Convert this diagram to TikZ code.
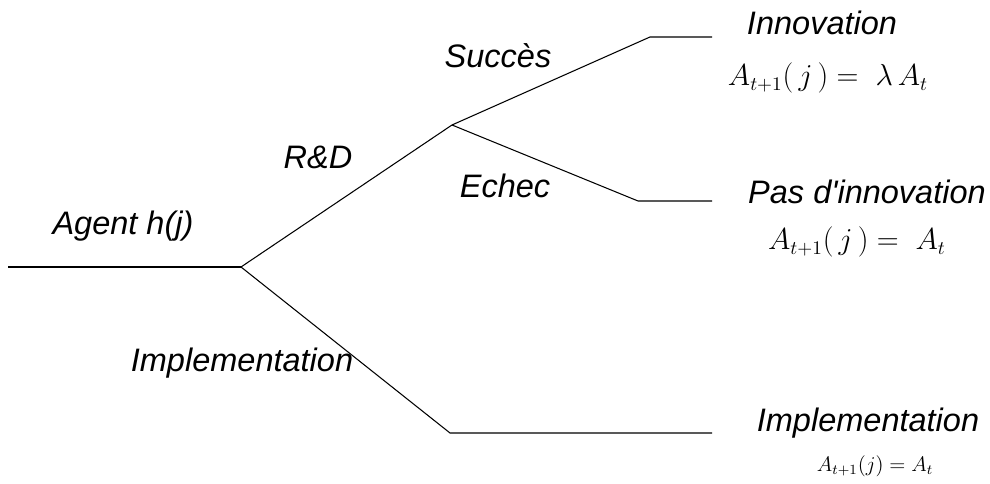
\documentclass[tikz,border=0pt]{standalone}
\usepackage{fontspec}
\newfontfamily\labelfont{Liberation Sans}
\begin{document}
\begin{tikzpicture}[
branch/.style={draw=black, line width=0.6pt},
txt/.style={font=\labelfont\itshape\fontsize{18.5}{22}\selectfont, inner sep=0pt},
formula/.style={font=\fontsize{16}{19}\selectfont, inner sep=0pt},
]
\useasboundingbox (0,0) rectangle (19.8,9.68);
%Points
\coordinate (start) at (0.16,4.34);
\coordinate (root) at (4.82,4.34);
\coordinate (rd) at (9.04,7.18);
\coordinate (succ) at (13.0,8.94);
\coordinate (succ_end) at (14.24,8.94);
\coordinate (echec) at (12.76,5.66);
\coordinate (echec_end) at (14.24,5.66);
\coordinate (impl) at (9.0,1.02);
\coordinate (impl_end) at (14.24,1.02);

%Nodes
\node[txt] (agent) at (2.46,5.16) {Agent h(j)};
\node[txt] (rd_label) at (6.36,6.54) {R\&D};
\node[txt] (succ_label) at (9.96,8.56) {Succès};
\node[txt] (echec_label) at (10.1,5.96) {Echec};
\node[txt] (impl_label) at (4.84,2.42) {Implementation};
\node[txt] (innovation) at (16.44,9.22) {Innovation};
\node[formula] (innovation_eq) at (16.56,8.12) {$A_{t+1}\bigl(\,j\,\bigr) = \;\lambda\, A_t$};
\node[txt] (no_innovation) at (17.34,5.84) {Pas d'innovation};
\node[formula] (no_innovation_eq) at (17.14,4.84) {$A_{t+1}\bigl(\,j\,\bigr) = \;A_t$};
\node[txt] (implementation) at (17.36,1.22) {Implementation};
\node[formula, font=\fontsize{12}{14}\selectfont] (implementation_eq) at (17.5,0.36) {$A_{t+1}(j) = A_t$};

%Lines
\draw[branch] (start) -- (root);
\draw[branch] (root) -- (rd);
\draw[branch] (rd) -- (succ) -- (succ_end);
\draw[branch] (rd) -- (echec) -- (echec_end);
\draw[branch] (root) -- (impl) -- (impl_end);

\end{tikzpicture}
\end{document}
